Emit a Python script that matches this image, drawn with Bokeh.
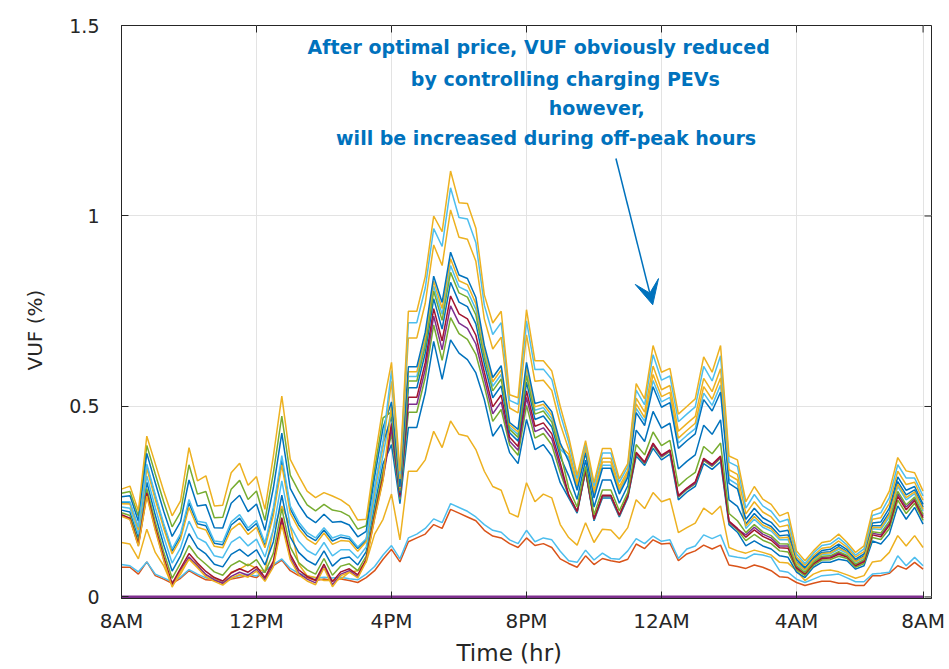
from bokeh.plotting import figure
from bokeh.models import Range1d, FixedTicker, Arrow, VeeHead, Label, Title
from bokeh.embed import file_html
from bokeh.resources import INLINE

# 15-minute samples over one day starting at 8AM (hours since 8AM)
hours = [i * 0.25 for i in range(96)]

tick_hours = [0, 4, 8, 12, 16, 20, 23.75]
tick_labels = ["8AM", "12PM", "4PM", "8PM", "12AM", "4AM", "8AM"]
y_ticks = [0, 0.5, 1, 1.5]
y_tick_labels = ["0", "0.5", "1", "1.5"]

# VUF (%) at each monitored node, 96 samples per node
vuf_01 = [0.283, 0.291, 0.226, 0.422, 0.350, 0.278, 0.213, 0.252, 0.392, 0.305,
          0.318, 0.239, 0.241, 0.326, 0.351, 0.293, 0.316, 0.230, 0.370, 0.527,
          0.361, 0.318, 0.278, 0.261, 0.274, 0.265, 0.255, 0.239, 0.202, 0.204,
          0.360, 0.500, 0.616, 0.330, 0.750, 0.750, 0.841, 1.000, 0.959, 1.118,
          1.035, 1.033, 0.968, 0.793, 0.719, 0.750, 0.531, 0.523, 0.754, 0.620,
          0.620, 0.593, 0.500, 0.420, 0.320, 0.410, 0.300, 0.390, 0.390, 0.310,
          0.350, 0.560, 0.520, 0.660, 0.590, 0.600, 0.480, 0.500, 0.520, 0.630,
          0.590, 0.660, 0.370, 0.360, 0.250, 0.290, 0.257, 0.243, 0.213, 0.222,
          0.121, 0.095, 0.121, 0.143, 0.147, 0.165, 0.143, 0.117, 0.134, 0.226,
          0.235, 0.278, 0.366, 0.331, 0.326, 0.278]
vuf_02 = [0.250, 0.250, 0.183, 0.349, 0.269, 0.193, 0.126, 0.166, 0.256, 0.199,
          0.195, 0.147, 0.144, 0.197, 0.216, 0.181, 0.201, 0.142, 0.235, 0.371,
          0.239, 0.197, 0.169, 0.155, 0.182, 0.155, 0.163, 0.158, 0.131, 0.153,
          0.288, 0.410, 0.594, 0.322, 0.720, 0.720, 0.811, 0.967, 0.920, 1.074,
          0.996, 0.992, 0.930, 0.766, 0.689, 0.720, 0.516, 0.506, 0.725, 0.597,
          0.598, 0.571, 0.480, 0.406, 0.311, 0.403, 0.291, 0.378, 0.378, 0.301,
          0.342, 0.543, 0.504, 0.636, 0.569, 0.580, 0.460, 0.480, 0.499, 0.605,
          0.567, 0.633, 0.354, 0.343, 0.233, 0.269, 0.239, 0.225, 0.197, 0.204,
          0.113, 0.088, 0.115, 0.135, 0.139, 0.155, 0.136, 0.110, 0.126, 0.214,
          0.221, 0.261, 0.347, 0.312, 0.312, 0.265]
vuf_03 = [0.245, 0.244, 0.176, 0.338, 0.256, 0.180, 0.113, 0.152, 0.235, 0.183,
          0.176, 0.133, 0.129, 0.177, 0.194, 0.164, 0.183, 0.129, 0.214, 0.347,
          0.220, 0.179, 0.152, 0.138, 0.168, 0.138, 0.148, 0.146, 0.120, 0.145,
          0.277, 0.396, 0.566, 0.310, 0.680, 0.680, 0.771, 0.924, 0.870, 1.016,
          0.944, 0.939, 0.881, 0.730, 0.651, 0.682, 0.496, 0.483, 0.688, 0.566,
          0.569, 0.542, 0.454, 0.388, 0.300, 0.394, 0.280, 0.364, 0.364, 0.290,
          0.332, 0.522, 0.485, 0.606, 0.544, 0.555, 0.435, 0.455, 0.474, 0.574,
          0.539, 0.599, 0.334, 0.322, 0.218, 0.250, 0.223, 0.210, 0.184, 0.189,
          0.105, 0.083, 0.109, 0.128, 0.131, 0.147, 0.130, 0.105, 0.119, 0.204,
          0.208, 0.246, 0.330, 0.295, 0.301, 0.254]
vuf_04 = [0.263, 0.266, 0.199, 0.377, 0.300, 0.225, 0.159, 0.198, 0.307, 0.239,
          0.242, 0.182, 0.181, 0.246, 0.267, 0.224, 0.244, 0.175, 0.286, 0.430,
          0.285, 0.243, 0.210, 0.195, 0.217, 0.196, 0.198, 0.189, 0.158, 0.172,
          0.315, 0.444, 0.512, 0.289, 0.604, 0.604, 0.695, 0.842, 0.773, 0.905,
          0.845, 0.836, 0.786, 0.661, 0.576, 0.607, 0.458, 0.440, 0.616, 0.508,
          0.514, 0.486, 0.404, 0.356, 0.280, 0.378, 0.260, 0.338, 0.338, 0.270,
          0.314, 0.484, 0.450, 0.552, 0.498, 0.510, 0.390, 0.410, 0.428, 0.518,
          0.488, 0.538, 0.298, 0.284, 0.204, 0.233, 0.208, 0.196, 0.171, 0.175,
          0.099, 0.077, 0.104, 0.122, 0.125, 0.139, 0.124, 0.099, 0.113, 0.194,
          0.197, 0.233, 0.315, 0.280, 0.290, 0.243]
vuf_05 = [0.212, 0.203, 0.133, 0.265, 0.175, 0.096, 0.026, 0.066, 0.099, 0.077,
          0.053, 0.041, 0.031, 0.049, 0.059, 0.052, 0.068, 0.041, 0.079, 0.190,
          0.098, 0.058, 0.042, 0.032, 0.076, 0.027, 0.056, 0.065, 0.050, 0.093,
          0.205, 0.306, 0.504, 0.286, 0.591, 0.591, 0.682, 0.829, 0.757, 0.888,
          0.830, 0.820, 0.770, 0.650, 0.565, 0.596, 0.452, 0.433, 0.604, 0.499,
          0.506, 0.477, 0.396, 0.375, 0.292, 0.388, 0.272, 0.354, 0.354, 0.282,
          0.325, 0.507, 0.471, 0.584, 0.526, 0.537, 0.417, 0.437, 0.456, 0.552,
          0.519, 0.575, 0.320, 0.307, 0.186, 0.211, 0.189, 0.179, 0.155, 0.157,
          0.090, 0.071, 0.097, 0.114, 0.116, 0.129, 0.117, 0.093, 0.105, 0.183,
          0.182, 0.216, 0.296, 0.261, 0.276, 0.230]
vuf_06 = [0.272, 0.277, 0.212, 0.398, 0.323, 0.250, 0.184, 0.223, 0.347, 0.270,
          0.277, 0.208, 0.209, 0.283, 0.306, 0.256, 0.278, 0.201, 0.325, 0.475,
          0.320, 0.278, 0.242, 0.226, 0.243, 0.228, 0.224, 0.212, 0.178, 0.187,
          0.336, 0.470, 0.486, 0.279, 0.567, 0.567, 0.658, 0.803, 0.726, 0.852,
          0.798, 0.787, 0.740, 0.628, 0.541, 0.572, 0.440, 0.419, 0.581, 0.480,
          0.488, 0.459, 0.380, 0.286, 0.236, 0.343, 0.216, 0.281, 0.281, 0.226,
          0.274, 0.400, 0.373, 0.433, 0.397, 0.411, 0.291, 0.311, 0.327, 0.395,
          0.376, 0.404, 0.219, 0.200, 0.169, 0.190, 0.171, 0.161, 0.140, 0.139,
          0.082, 0.064, 0.091, 0.107, 0.108, 0.119, 0.109, 0.086, 0.098, 0.171,
          0.168, 0.199, 0.277, 0.242, 0.262, 0.217]
vuf_07 = [0.248, 0.247, 0.180, 0.344, 0.264, 0.188, 0.120, 0.160, 0.247, 0.192,
          0.187, 0.141, 0.137, 0.189, 0.207, 0.174, 0.193, 0.136, 0.226, 0.360,
          0.231, 0.189, 0.161, 0.148, 0.176, 0.147, 0.157, 0.153, 0.127, 0.149,
          0.283, 0.404, 0.473, 0.274, 0.549, 0.549, 0.640, 0.783, 0.703, 0.826,
          0.774, 0.762, 0.717, 0.612, 0.523, 0.554, 0.431, 0.409, 0.564, 0.466,
          0.475, 0.446, 0.368, 0.318, 0.256, 0.359, 0.236, 0.307, 0.307, 0.246,
          0.292, 0.438, 0.408, 0.487, 0.443, 0.456, 0.336, 0.356, 0.373, 0.451,
          0.427, 0.465, 0.255, 0.238, 0.192, 0.219, 0.196, 0.185, 0.161, 0.163,
          0.093, 0.073, 0.100, 0.117, 0.119, 0.132, 0.119, 0.095, 0.108, 0.187,
          0.187, 0.222, 0.303, 0.268, 0.281, 0.235]
vuf_08 = [0.236, 0.233, 0.165, 0.318, 0.235, 0.158, 0.089, 0.129, 0.199, 0.155,
          0.143, 0.108, 0.103, 0.143, 0.158, 0.134, 0.152, 0.105, 0.178, 0.305,
          0.188, 0.146, 0.122, 0.110, 0.143, 0.108, 0.124, 0.124, 0.102, 0.131,
          0.258, 0.372, 0.495, 0.282, 0.579, 0.579, 0.670, 0.816, 0.742, 0.870,
          0.814, 0.803, 0.755, 0.639, 0.553, 0.584, 0.446, 0.426, 0.593, 0.490,
          0.497, 0.468, 0.388, 0.366, 0.286, 0.383, 0.266, 0.346, 0.346, 0.276,
          0.319, 0.495, 0.461, 0.568, 0.512, 0.524, 0.404, 0.424, 0.442, 0.535,
          0.503, 0.556, 0.309, 0.295, 0.180, 0.204, 0.183, 0.173, 0.150, 0.151,
          0.087, 0.069, 0.095, 0.112, 0.113, 0.125, 0.114, 0.091, 0.103, 0.179,
          0.177, 0.210, 0.290, 0.255, 0.271, 0.226]
vuf_09 = [0.216, 0.207, 0.138, 0.273, 0.184, 0.105, 0.035, 0.075, 0.114, 0.089,
          0.067, 0.051, 0.042, 0.063, 0.074, 0.065, 0.080, 0.051, 0.094, 0.208,
          0.112, 0.071, 0.054, 0.044, 0.086, 0.040, 0.066, 0.074, 0.058, 0.099,
          0.213, 0.316, 0.456, 0.267, 0.524, 0.524, 0.615, 0.757, 0.672, 0.790,
          0.743, 0.730, 0.687, 0.590, 0.499, 0.530, 0.419, 0.395, 0.541, 0.448,
          0.457, 0.428, 0.352, 0.268, 0.225, 0.334, 0.205, 0.267, 0.267, 0.215,
          0.265, 0.380, 0.354, 0.404, 0.372, 0.386, 0.266, 0.286, 0.302, 0.364,
          0.348, 0.370, 0.199, 0.180, 0.157, 0.176, 0.159, 0.149, 0.129, 0.128,
          0.076, 0.060, 0.087, 0.101, 0.102, 0.112, 0.105, 0.082, 0.092, 0.163,
          0.158, 0.188, 0.264, 0.229, 0.253, 0.208]
vuf_10 = [0.214, 0.205, 0.135, 0.268, 0.179, 0.099, 0.030, 0.070, 0.105, 0.082,
          0.059, 0.045, 0.036, 0.054, 0.065, 0.057, 0.073, 0.045, 0.085, 0.197,
          0.104, 0.063, 0.047, 0.037, 0.080, 0.032, 0.060, 0.069, 0.053, 0.096,
          0.208, 0.310, 0.443, 0.262, 0.506, 0.506, 0.597, 0.737, 0.649, 0.764,
          0.719, 0.705, 0.664, 0.573, 0.481, 0.512, 0.409, 0.385, 0.524, 0.434,
          0.444, 0.415, 0.340, 0.266, 0.224, 0.333, 0.204, 0.265, 0.265, 0.214,
          0.264, 0.378, 0.352, 0.401, 0.369, 0.384, 0.264, 0.284, 0.299, 0.361,
          0.345, 0.367, 0.197, 0.178, 0.163, 0.183, 0.165, 0.155, 0.134, 0.134,
          0.079, 0.062, 0.089, 0.104, 0.105, 0.116, 0.107, 0.084, 0.095, 0.167,
          0.163, 0.193, 0.271, 0.236, 0.258, 0.213]
vuf_11 = [0.221, 0.214, 0.144, 0.284, 0.197, 0.118, 0.049, 0.089, 0.135, 0.105,
          0.086, 0.066, 0.057, 0.083, 0.095, 0.082, 0.098, 0.064, 0.115, 0.232,
          0.131, 0.090, 0.071, 0.060, 0.101, 0.057, 0.081, 0.087, 0.069, 0.107,
          0.224, 0.330, 0.428, 0.256, 0.485, 0.485, 0.576, 0.714, 0.621, 0.733,
          0.691, 0.676, 0.637, 0.554, 0.461, 0.492, 0.399, 0.372, 0.503, 0.417,
          0.429, 0.399, 0.326, 0.265, 0.223, 0.332, 0.203, 0.264, 0.264, 0.213,
          0.263, 0.376, 0.350, 0.398, 0.367, 0.382, 0.262, 0.282, 0.297, 0.358,
          0.343, 0.364, 0.195, 0.176, 0.148, 0.164, 0.149, 0.140, 0.121, 0.118,
          0.072, 0.056, 0.083, 0.097, 0.098, 0.107, 0.101, 0.078, 0.088, 0.156,
          0.151, 0.179, 0.254, 0.219, 0.246, 0.201]
vuf_12 = [0.228, 0.223, 0.154, 0.301, 0.215, 0.137, 0.068, 0.108, 0.166, 0.129,
          0.113, 0.086, 0.079, 0.112, 0.125, 0.107, 0.124, 0.084, 0.145, 0.267,
          0.158, 0.117, 0.096, 0.084, 0.121, 0.081, 0.101, 0.105, 0.084, 0.119,
          0.240, 0.350, 0.400, 0.245, 0.445, 0.445, 0.536, 0.671, 0.571, 0.675,
          0.640, 0.623, 0.588, 0.518, 0.422, 0.453, 0.379, 0.350, 0.466, 0.387,
          0.400, 0.370, 0.300, 0.260, 0.220, 0.330, 0.200, 0.260, 0.260, 0.210,
          0.260, 0.370, 0.345, 0.390, 0.360, 0.375, 0.255, 0.275, 0.290, 0.350,
          0.335, 0.355, 0.190, 0.170, 0.134, 0.147, 0.134, 0.126, 0.108, 0.104,
          0.065, 0.051, 0.078, 0.091, 0.091, 0.099, 0.095, 0.073, 0.082, 0.147,
          0.139, 0.165, 0.239, 0.204, 0.235, 0.191]
vuf_13 = [0.143, 0.139, 0.100, 0.178, 0.117, 0.082, 0.030, 0.060, 0.100, 0.086,
          0.056, 0.051, 0.034, 0.065, 0.073, 0.086, 0.075, 0.066, 0.178, 0.239,
          0.187, 0.086, 0.056, 0.051, 0.043, 0.043, 0.047, 0.065, 0.069, 0.091,
          0.165, 0.204, 0.270, 0.150, 0.330, 0.330, 0.360, 0.435, 0.392, 0.462,
          0.427, 0.422, 0.387, 0.330, 0.290, 0.280, 0.220, 0.210, 0.300, 0.250,
          0.270, 0.260, 0.190, 0.156, 0.136, 0.195, 0.143, 0.178, 0.176, 0.152,
          0.182, 0.255, 0.232, 0.274, 0.250, 0.258, 0.169, 0.182, 0.194, 0.233,
          0.217, 0.239, 0.130, 0.121, 0.115, 0.123, 0.117, 0.110, 0.091, 0.089,
          0.069, 0.043, 0.060, 0.069, 0.071, 0.066, 0.058, 0.049, 0.056, 0.092,
          0.095, 0.117, 0.161, 0.134, 0.161, 0.130]
vuf_14 = [0.085, 0.082, 0.066, 0.092, 0.060, 0.050, 0.040, 0.052, 0.072, 0.060,
          0.050, 0.048, 0.042, 0.050, 0.056, 0.060, 0.055, 0.070, 0.085, 0.100,
          0.075, 0.062, 0.055, 0.050, 0.052, 0.050, 0.052, 0.048, 0.045, 0.060,
          0.080, 0.110, 0.135, 0.100, 0.155, 0.165, 0.180, 0.205, 0.195, 0.245,
          0.235, 0.225, 0.210, 0.190, 0.175, 0.170, 0.150, 0.140, 0.175, 0.145,
          0.155, 0.150, 0.120, 0.095, 0.091, 0.123, 0.097, 0.115, 0.101, 0.099,
          0.121, 0.153, 0.140, 0.160, 0.146, 0.150, 0.101, 0.126, 0.134, 0.163,
          0.153, 0.163, 0.108, 0.104, 0.101, 0.113, 0.110, 0.104, 0.069, 0.065,
          0.047, 0.038, 0.047, 0.056, 0.058, 0.060, 0.050, 0.040, 0.040, 0.060,
          0.062, 0.065, 0.108, 0.082, 0.104, 0.082]
vuf_15 = [0.078, 0.078, 0.060, 0.092, 0.056, 0.047, 0.036, 0.049, 0.069, 0.056,
          0.045, 0.043, 0.038, 0.047, 0.051, 0.056, 0.051, 0.069, 0.082, 0.097,
          0.069, 0.056, 0.051, 0.043, 0.047, 0.043, 0.047, 0.043, 0.038, 0.051,
          0.069, 0.099, 0.125, 0.092, 0.145, 0.155, 0.165, 0.190, 0.180, 0.230,
          0.220, 0.210, 0.200, 0.175, 0.160, 0.155, 0.140, 0.130, 0.155, 0.135,
          0.140, 0.130, 0.100, 0.088, 0.078, 0.108, 0.085, 0.101, 0.095, 0.091,
          0.099, 0.139, 0.127, 0.150, 0.139, 0.141, 0.095, 0.113, 0.121, 0.136,
          0.126, 0.136, 0.084, 0.080, 0.075, 0.084, 0.078, 0.069, 0.053, 0.051,
          0.038, 0.030, 0.036, 0.041, 0.041, 0.036, 0.036, 0.030, 0.030, 0.056,
          0.056, 0.062, 0.082, 0.073, 0.091, 0.073]
# reference node: no unbalance
vuf_16 = [0, 0, 0, 0, 0, 0, 0, 0, 0, 0, 0, 0, 0, 0, 0, 0, 0, 0, 0, 0,
          0, 0, 0, 0, 0, 0, 0, 0, 0, 0, 0, 0, 0, 0, 0, 0, 0, 0, 0, 0,
          0, 0, 0, 0, 0, 0, 0, 0, 0, 0, 0, 0, 0, 0, 0, 0, 0, 0, 0, 0,
          0, 0, 0, 0, 0, 0, 0, 0, 0, 0, 0, 0, 0, 0, 0, 0, 0, 0, 0, 0,
          0, 0, 0, 0, 0, 0, 0, 0, 0, 0, 0, 0, 0, 0, 0, 0]

BLUE = "#0072BD"
ORANGE = "#D95319"
YELLOW = "#EDB120"
PURPLE = "#7E2F8E"
GREEN = "#77AC30"
LIGHTBLUE = "#4DBEEE"
MAROON = "#A2142F"
INK = "#262626"
FONT = "DejaVu Sans"

# drawing order: lowest curves first, top envelope last
curves = [
    (vuf_15, ORANGE), (vuf_14, LIGHTBLUE), (vuf_13, YELLOW),
    (vuf_12, BLUE), (vuf_11, GREEN), (vuf_10, PURPLE), (vuf_09, MAROON),
    (vuf_08, LIGHTBLUE), (vuf_07, BLUE), (vuf_06, GREEN), (vuf_05, YELLOW),
    (vuf_04, BLUE), (vuf_03, YELLOW), (vuf_02, LIGHTBLUE), (vuf_01, YELLOW),
]

note_lines = [
    "After optimal price, VUF obviously reduced",
    "by controlling charging PEVs",
    "however,",
    "will be increased during off-peak hours",
]
note_x = [12.36, 13.15, 14.08, 12.58]
note_y = [1.443, 1.360, 1.284, 1.205]

Y0, Y1 = -0.004, 1.5
X0, X1 = 0, 24

p = figure(width=949, height=669,
           x_range=Range1d(X0, X1), y_range=Range1d(Y0, Y1),
           output_backend="svg", toolbar_location=None,
           min_border_left=120, min_border_right=18,
           min_border_top=25, min_border_bottom=71)
p.background_fill_color = "white"
p.border_fill_color = "white"
p.outline_line_color = INK
p.outline_line_width = 1

x_ticker = FixedTicker(ticks=tick_hours)
y_ticker = FixedTicker(ticks=y_ticks)

p.xaxis.ticker = x_ticker
p.xaxis.major_label_overrides = {h: t for h, t in zip(tick_hours, tick_labels)}
p.yaxis.ticker = y_ticker
p.yaxis.major_label_overrides = {v: t for v, t in zip(y_ticks, y_tick_labels)}

for ax in (p.xaxis[0], p.yaxis[0]):
    ax.axis_line_color = INK
    ax.major_tick_line_color = INK
    ax.major_tick_in = 7
    ax.major_tick_out = 0
    ax.minor_tick_line_color = None
    ax.major_label_text_font = FONT
    ax.major_label_text_color = INK

p.xaxis.major_label_text_font_size = "20px"
p.yaxis.major_label_text_font_size = "19px"
p.xaxis.major_label_standoff = 10
p.yaxis.major_label_standoff = 22

p.xgrid.ticker = x_ticker
p.ygrid.ticker = y_ticker
p.grid.grid_line_color = "#e3e3e3"
p.grid.grid_line_width = 1

# inward tick marks mirrored on the top and right edges of the box
tick_len_y = 7 * (Y1 - Y0) / 573
tick_len_x = 7 * (X1 - X0) / 811
p.segment(x0=tick_hours, x1=tick_hours,
          y0=[Y1] * len(tick_hours), y1=[Y1 - tick_len_y] * len(tick_hours),
          line_color=INK, line_width=1)
p.segment(x0=[X1] * len(y_ticks), x1=[X1 - tick_len_x] * len(y_ticks),
          y0=y_ticks, y1=y_ticks, line_color=INK, line_width=1)

for values, color in curves:
    p.line(hours, values, line_color=color, line_width=1.5)
p.line(hours, vuf_16, line_color=PURPLE, line_width=3)

# axis titles
p.add_layout(Title(text="Time (hr)", align="left", offset=335, standoff=4,
                   text_font=FONT, text_font_size="23px",
                   text_font_style="normal", text_color=INK), "below")
p.add_layout(Title(text="VUF (%)", align="left", offset=228, standoff=40,
                   text_font=FONT, text_font_size="20px",
                   text_font_style="normal", text_color=INK), "left")

for text, x, y in zip(note_lines, note_x, note_y):
    p.add_layout(Label(x=x, y=y, text=text, text_align="center",
                       text_baseline="middle", text_font=FONT,
                       text_font_style="bold", text_font_size="19px",
                       text_color=BLUE))

p.add_layout(Arrow(end=VeeHead(size=24, fill_color=BLUE, line_color=BLUE),
                   x_start=14.65, y_start=1.151, x_end=15.74, y_end=0.767,
                   line_color=BLUE, line_width=1.5))

open("out.html", "w").write(file_html(p, INLINE))
